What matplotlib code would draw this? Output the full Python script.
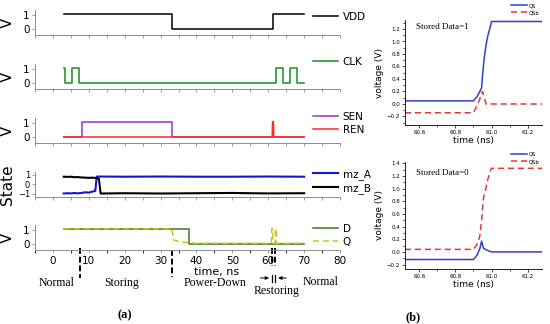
import matplotlib.pyplot as plt
from matplotlib.ticker import MultipleLocator
import matplotlib.transforms as mtransforms

# ---- panel (a): waveforms, time in ns ----
vdd_t = [3, 33.2, 33.2, 61.2, 61.2, 70]
vdd_v = [1.1, 1.1, 0, 0, 1.1, 1.1]

clk_t = [3, 3.3, 3.3, 5.3, 5.3, 7.3, 7.3, 62.3, 62.3, 64.0, 64.0, 66.2, 66.2, 68.0, 68.0, 70]
clk_v = [1.1, 1.1, 0, 0, 1.1, 1.1, 0, 0, 1.1, 1.1, 0, 0, 1.1, 1.1, 0, 0]

sen_t = [3, 8.0, 8.0, 33.2, 33.2, 70]
sen_v = [0, 0, 1.1, 1.1, 0, 0]

ren_t = [3, 61.1, 61.2, 61.45, 61.55, 70]
ren_v = [0, 0, 1.1, 1.1, 0, 0]

mza_t = [3, 4, 5, 6, 7, 8, 9, 10, 11, 11.8, 12.2, 12.4, 20, 30, 40, 50, 60, 70]
mza_v = [-0.98, -0.95, -0.97, -0.93, -0.96, -0.92, -0.85, -0.88, -0.78, -0.7, 0.8, 0.82, 0.8, 0.82, 0.8, 0.8, 0.82, 0.8]

mzb_t = [3, 4, 5, 6, 7, 8, 9, 10, 11, 12, 12.8, 13.3, 20, 30, 40, 50, 55, 60, 70]
mzb_v = [0.8, 0.78, 0.8, 0.75, 0.76, 0.72, 0.7, 0.68, 0.7, 0.65, 0.6, -0.98, -0.95, -0.98, -0.95, -0.92, -0.95, -0.97, -0.95]

d_t = [3, 38.0, 38.0, 70]
d_v = [1.1, 1.1, 0, 0]

q_t = [3, 33.2, 33.5, 34.5, 36, 38, 40, 60.9, 61.0, 61.2, 61.3, 61.9, 62.0, 62.2, 62.3, 70]
q_v = [1.1, 1.1, 0.3, 0.22, 0.15, 0.08, 0.05, 0.05, 1.1, 1.1, 0.05, 0.05, 1.1, 1.1, 0.05, 0.05]

# ---- panel (b): restore transients ----
b1_t = [60.52, 60.90, 60.92, 60.935, 60.945, 60.95, 60.96, 60.97, 60.98, 60.99, 61.0, 61.28]
b1_qs = [0.05, 0.05, 0.12, 0.2, 0.26, 0.45, 0.75, 0.95, 1.1, 1.2, 1.32, 1.32]
b1_qsb = [-0.14, -0.14, -0.02, 0.08, 0.17, 0.2, 0.1, 0.0, 0.0, 0.0, 0.0, 0.0]

b2_t = [60.52, 60.90, 60.92, 60.935, 60.945, 60.955, 60.965, 60.975, 60.99, 61.0, 61.28]
b2_qs = [-0.12, -0.12, -0.05, 0.05, 0.17, 0.06, 0.04, 0.03, 0.01, 0.0, 0.0]
b2_qsb = [0.04, 0.04, 0.12, 0.25, 0.5, 0.85, 0.95, 1.1, 1.25, 1.32, 1.32]

W, H = 550, 324
fig = plt.figure(figsize=(W / 100, H / 100), dpi=100)


def ax_px(x0, y_top, x1, y_bot):
    return fig.add_axes([x0 / W, 1 - y_bot / H, (x1 - x0) / W, (y_bot - y_top) / H])


grey = "#8c8c8c"
bottoms = [35, 89, 143, 197, 250]
panels = []
for b in bottoms:
    ax = ax_px(35, b - 25, 340, b)
    ax.set_xlim(-5, 80)
    for s in ["top", "right"]:
        ax.spines[s].set_visible(False)
    for s in ["left", "bottom"]:
        ax.spines[s].set_color(grey)
        ax.spines[s].set_linewidth(0.7)
    ax.xaxis.set_major_locator(MultipleLocator(5))
    ax.tick_params(axis="both", direction="out", length=2.5, width=0.6, color=grey,
                   labelsize=7.5, pad=1.5)
    ax.tick_params(axis="x", labelbottom=False)
    ax.set_ylim(-0.43, 1.36)
    ax.set_yticks([0, 1])
    panels.append(ax)

ax1, ax2, ax3, ax4, ax5 = panels
ax4.set_ylim(-1.35, 1.3)
ax4.set_yticks([-1, 0, 1])
ax4.tick_params(axis="y", labelsize=6, pad=1)

ax1.plot(vdd_t, vdd_v, color="black", lw=1.1, label="VDD")
ax2.plot(clk_t, clk_v, color="#1e8c1e", lw=1.1, label="CLK")
ax3.plot(sen_t, sen_v, color="#9b30d0", lw=1.1, label="SEN")
ax3.plot(ren_t, ren_v, color="#ff2a2a", lw=1.1, label="REN")
ax4.plot(mza_t, mza_v, color="#1414d2", lw=1.5, label="mz_A")
ax4.plot(mzb_t, mzb_v, color="black", lw=1.5, label="mz_B")
ax5.plot(d_t, d_v, color="#3a7a1a", lw=1.1, label="D")
ax5.plot(q_t, q_v, color="#c8c41e", lw=1.1, ls=(0, (4, 2.5)), label="Q")

leg_tops = [12, 57, 112, 169, 224]
for ax, yt in zip(panels, leg_tops):
    ax.legend(loc="upper left", bbox_to_anchor=(313 / W, 1 - yt / H),
              bbox_transform=fig.transFigure, frameon=False, fontsize=7.5,
              handlelength=2.4, handletextpad=0.45, labelspacing=0.3,
              borderpad=0, borderaxespad=0)

for ax in panels:
    ax.set_ylabel("V", fontsize=11, labelpad=0)
    ax.yaxis.set_label_coords(-0.066, 0.5)
ax4.set_ylabel("State", fontsize=11)
ax4.yaxis.set_label_coords(-0.066, 0.5)

ax5.set_xticks(range(0, 81, 10))
ax5.xaxis.set_minor_locator(MultipleLocator(5))
ax5.tick_params(axis="x", labelbottom=True, pad=2)

# phase annotations under the time axis
tr = mtransforms.blended_transform_factory(ax5.transData, ax5.transAxes)
serif = "Liberation Serif"
ax5.text(45.7, -0.88, "time, ns", transform=tr, ha="center", va="center", fontsize=8)
for x, y, s in [(1.1, -1.32, "Normal"), (19.2, -1.32, "Storing"),
                (45.2, -1.32, "Power-Down"), (62.2, -1.64, "Restoring"),
                (74.5, -1.28, "Normal")]:
    ax5.text(x, y, s, transform=tr, ha="center", va="center", fontsize=8.5, family=serif)

for x, y0, y1 in [(7.5, 0.08, -1.12), (33.2, 0.0, -1.08), (61.0, 0.08, -0.64), (62.0, 0.08, -0.64)]:
    ax5.plot([x, x], [y0, y1], transform=tr, color="black", lw=1.4,
             ls=(0, (3, 1.5)), clip_on=False)
ax5.annotate("", xy=(61.0, -1.12), xytext=(57.0, -1.12), xycoords=tr, textcoords=tr,
             arrowprops=dict(arrowstyle="-|>", color="black", lw=0.7, mutation_scale=5))
ax5.annotate("", xy=(62.0, -1.12), xytext=(65.8, -1.12), xycoords=tr, textcoords=tr,
             arrowprops=dict(arrowstyle="-|>", color="black", lw=0.7, mutation_scale=5))
for x in [61.0, 62.0]:
    ax5.plot([x, x], [-0.98, -1.26], transform=tr, color="black", lw=0.9, clip_on=False)

fig.text(125 / W, 1 - 315 / H, "(a)", ha="center", va="center", fontsize=9,
         family=serif, fontweight="bold")

# ---- panel (b) ----
blue = "#2f3fd0"
red = "#e8353a"
b_axes = [(ax_px(405, 20, 542, 125), b1_qs, b1_qsb, "Stored Data=1", 27, (-0.336, 1.344), 3),
          (ax_px(405, 162, 542, 269), b2_qs, b2_qsb, "Stored Data=0", 173, (-0.27, 1.42), 152)]
for (ax, qs, qsb, label, ty, ylim, legy), t in zip(b_axes, [b1_t, b2_t]):
    ax.plot(t, qs, color=blue, lw=1.1, label="QS")
    ax.plot(t, qsb, color=red, lw=1.1, ls=(0, (4, 2.5)), label="QSb")
    ax.set_xlim(60.52, 61.28)
    ax.set_ylim(*ylim)
    for s in ["top", "right"]:
        ax.spines[s].set_visible(False)
    for s in ["left", "bottom"]:
        ax.spines[s].set_linewidth(0.6)
    ax.xaxis.set_major_locator(MultipleLocator(0.2))
    ax.xaxis.set_minor_locator(MultipleLocator(0.1))
    ax.yaxis.set_major_locator(MultipleLocator(0.2))
    ax.yaxis.set_minor_locator(MultipleLocator(0.1))
    ax.tick_params(which="both", direction="out", labelsize=4, pad=1.5, width=0.5)
    ax.tick_params(which="major", length=2)
    ax.tick_params(which="minor", length=1.2)
    ax.set_xlabel("time (ns)", fontsize=6.5, labelpad=1)
    ax.set_ylabel("voltage (V)", fontsize=6.5, labelpad=2)
    fig.text(416 / W, 1 - ty / H, label, ha="left", va="center", fontsize=6.5, family=serif)
    ax.legend(loc="upper left", bbox_to_anchor=(511 / W, 1 - legy / H),
              bbox_transform=fig.transFigure, frameon=False, fontsize=3.8,
              handlelength=3, handletextpad=0.3, labelspacing=0.4,
              borderpad=0, borderaxespad=0)

fig.text(413 / W, 1 - 317 / H, "(b)", ha="center", va="center", fontsize=9,
         family=serif, fontweight="bold")

fig.savefig("out.png", dpi=100)
